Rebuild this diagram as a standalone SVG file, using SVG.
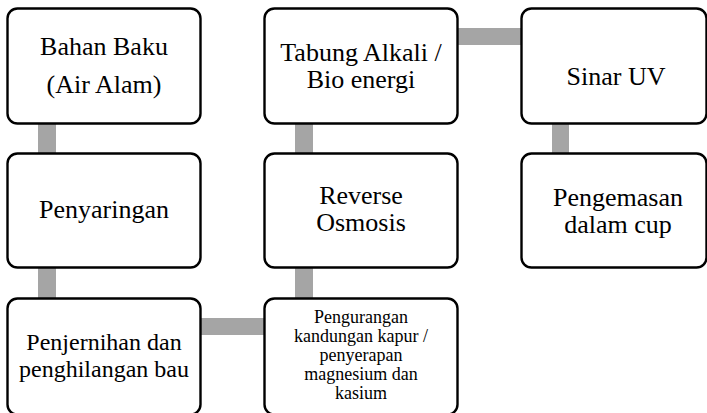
<svg xmlns="http://www.w3.org/2000/svg" width="707" height="413" viewBox="0 0 707 413">
<style>
.box{fill:#fff;stroke:#000;stroke-width:2.4}
.bar{fill:#a5a5a5}
.lbl{font-family:'Liberation Serif',serif;fill:#000;text-anchor:middle}
.t{font-size:26px}
.m{font-size:24px}
.s{font-size:18px}
</style>
<rect width="707" height="413" fill="#fff"/>
<g id="connectors">
<rect class="bar" x="38" y="123" width="18" height="31"/>
<rect class="bar" x="38" y="267" width="18" height="32"/>
<rect class="bar" x="200" y="318" width="65" height="17"/>
<rect class="bar" x="295" y="267" width="18" height="32"/>
<rect class="bar" x="295" y="123" width="18" height="31"/>
<rect class="bar" x="456" y="28" width="66" height="17"/>
<rect class="bar" x="552" y="123" width="17" height="31"/>
</g>
<g font-family="Liberation Serif, serif">
<g id="bahan-baku">
<rect class="box" x="7.5" y="8.5" width="193" height="115" rx="10"/>
<text class="lbl t" x="104" y="55">Bahan Baku</text>
<text class="lbl t" x="104" y="93">(Air Alam)</text>
</g>
<g id="penyaringan">
<rect class="box" x="7.5" y="153.5" width="193" height="114" rx="10"/>
<text class="lbl t" x="104" y="218">Penyaringan</text>
</g>
<g id="penjernihan">
<rect class="box" x="7.5" y="298.5" width="193" height="116" rx="10"/>
<text class="lbl m" x="104" y="350">Penjernihan dan</text>
<text class="lbl m" x="104" y="377">penghilangan bau</text>
</g>
<g id="pengurangan">
<rect class="box" x="264.5" y="298.5" width="193" height="116" rx="10"/>
<text class="lbl s" x="361" y="323">Pengurangan</text>
<text class="lbl s" x="361" y="342">kandungan kapur /</text>
<text class="lbl s" x="361" y="361">penyerapan</text>
<text class="lbl s" x="361" y="380">magnesium dan</text>
<text class="lbl s" x="361" y="399">kasium</text>
</g>
<g id="reverse-osmosis">
<rect class="box" x="264.5" y="153.5" width="193" height="114" rx="10"/>
<text class="lbl t" x="361" y="204">Reverse</text>
<text class="lbl t" x="361" y="231">Osmosis</text>
</g>
<g id="tabung-alkali">
<rect class="box" x="264.5" y="8.5" width="193" height="115" rx="10"/>
<text class="lbl t" x="361" y="61">Tabung Alkali /</text>
<text class="lbl t" x="361" y="88">Bio energi</text>
</g>
<g id="sinar-uv">
<rect class="box" x="521.5" y="8.5" width="185" height="115" rx="10"/>
<text class="lbl t" x="616" y="85">Sinar UV</text>
</g>
<g id="pengemasan">
<rect class="box" x="521.5" y="153.5" width="185" height="114" rx="10"/>
<text class="lbl t" x="618" y="206">Pengemasan</text>
<text class="lbl t" x="618" y="233">dalam cup</text>
</g>
</g>
</svg>
